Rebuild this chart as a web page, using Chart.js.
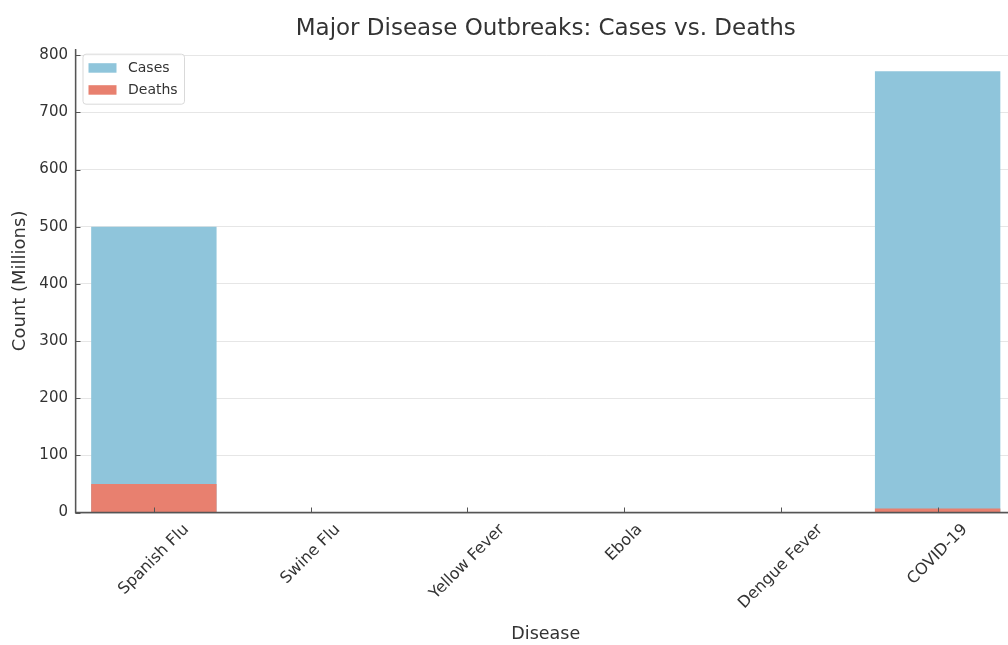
<!DOCTYPE html>
<html>
<head>
<meta charset="utf-8">
<title>Major Disease Outbreaks</title>
<script src="https://cdn.jsdelivr.net/npm/chart.js@4.4.1/dist/chart.umd.min.js"></script>
<style>
  html, body { margin: 0; padding: 0; background: #ffffff; overflow: hidden; }
  #wrap { position: absolute; left: 0; top: 0; width: 1016px; height: 645px; }
</style>
</head>
<body>
<div id="wrap"><canvas id="chart" width="1016" height="645"></canvas></div>
<script>
// Outbreak figures, in millions
const diseases = ['Spanish Flu', 'Swine Flu', 'Yellow Fever', 'Ebola', 'Dengue Fever', 'COVID-19'];
const cases = [500, 0.1, 0.2, 0.03, 0.1, 772];
const deaths = [50, 0.02, 0.03, 0.01, 0.04, 7];
const yTickValues = [0, 100, 200, 300, 400, 500, 600, 700, 800];
const chartTitle = 'Major Disease Outbreaks: Cases vs. Deaths';
const xTitle = 'Disease';
const yTitle = 'Count (Millions)';

const FONT = 'DejaVu Sans';
const TEXT = '#333333';
const AXIS = '#555555';
const CASES_COLOR = '#8fc5db';
const DEATHS_COLOR = '#e8806f';

// axis lines over the bars, inward ticks, rotated category labels, framed legend, title
const decor = {
  id: 'decor',
  afterDatasetsDraw(chart) {
    const { ctx, chartArea: a, scales: { x, y } } = chart;
    ctx.save();

    // left and bottom axis lines drawn above the bars
    ctx.strokeStyle = AXIS;
    ctx.lineWidth = 1.3;
    ctx.beginPath();
    ctx.moveTo(a.left, a.top);
    ctx.lineTo(a.left, a.bottom);
    ctx.lineTo(a.right, a.bottom);
    ctx.stroke();

    // inward tick marks
    ctx.lineWidth = 1;
    ctx.beginPath();
    diseases.forEach((_, i) => {
      const px = Math.round(x.getPixelForValue(i)) + 0.5;
      ctx.moveTo(px, a.bottom);
      ctx.lineTo(px, a.bottom - 5);
    });
    yTickValues.forEach(v => {
      const py = Math.round(y.getPixelForValue(v)) + 0.5;
      ctx.moveTo(a.left, py);
      ctx.lineTo(a.left + 5, py);
    });
    ctx.stroke();

    // category labels rotated 45°, centred under each tick
    const fs = 16;
    ctx.font = fs + 'px "' + FONT + '"';
    ctx.fillStyle = TEXT;
    ctx.textAlign = 'center';
    ctx.textBaseline = 'middle';
    const lh = fs * 1.164;
    diseases.forEach((label, i) => {
      const w = ctx.measureText(label).width;
      const half = (w + lh) * Math.SQRT1_2 / 2;
      const cx = x.getPixelForValue(i);
      const cy = a.bottom + 8 + half;
      ctx.save();
      ctx.translate(cx, cy);
      ctx.rotate(-Math.PI / 4);
      ctx.fillText(label, 0, 0);
      ctx.restore();
    });

    // legend
    const lx = a.left + 7, ly = a.top + 4.5, lw = 101.5, lhgt = 50;
    ctx.beginPath();
    ctx.roundRect(lx + 0.5, ly + 0.5, lw, lhgt, 3);
    ctx.fillStyle = 'rgba(255,255,255,0.8)';
    ctx.fill();
    ctx.strokeStyle = '#d9d9d9';
    ctx.stroke();
    ctx.font = '14px "' + FONT + '"';
    ctx.textAlign = 'left';
    chart.data.datasets.forEach((ds, i) => {
      const rowY = ly + 14 + i * 22;
      ctx.fillStyle = ds.backgroundColor;
      ctx.fillRect(lx + 6, rowY - 4.5, 28, 9.5);
      ctx.fillStyle = TEXT;
      ctx.fillText(ds.label, lx + 45.5, rowY + 0.5);
    });

    // chart title
    ctx.font = '23px "' + FONT + '"';
    ctx.textAlign = 'center';
    ctx.textBaseline = 'alphabetic';
    ctx.fillStyle = TEXT;
    ctx.fillText(chartTitle, (a.left + a.right) / 2, 35);

    ctx.restore();
  }
};

new Chart(document.getElementById('chart'), {
  type: 'bar',
  data: {
    labels: diseases,
    datasets: [
      { label: 'Cases', data: cases, backgroundColor: CASES_COLOR, order: 1 },
      { label: 'Deaths', data: deaths, backgroundColor: DEATHS_COLOR, order: 0 }
    ]
  },
  options: {
    responsive: false,
    animation: false,
    devicePixelRatio: 1,
    layout: { padding: { top: 49.2, left: 0, right: 0, bottom: 0 } },
    datasets: {
      bar: { grouped: false, categoryPercentage: 1.0, barPercentage: 0.8, borderWidth: 0 }
    },
    plugins: {
      legend: { display: false },
      title: { display: false },
      tooltip: { enabled: false }
    },
    scales: {
      x: {
        type: 'category',
        offset: true,
        grid: { display: false, drawTicks: false },
        border: { display: true, color: AXIS, width: 1.3 },
        ticks: { display: false },
        title: {
          display: true, text: xTitle, color: TEXT,
          font: { family: FONT, size: 17.5 },
          padding: { top: 0, bottom: 0.5 }
        },
        afterFit(scale) { scale.height = 132.5; }
      },
      y: {
        min: 0,
        max: 810.6,
        afterBuildTicks(scale) { scale.ticks = yTickValues.map(v => ({ value: v })); },
        grid: { color: '#e6e6e6', lineWidth: 1, drawTicks: false },
        border: { display: true, color: AXIS, width: 1.3 },
        ticks: {
          color: TEXT, padding: 7.5,
          font: { family: FONT, size: 15 }
        },
        title: {
          display: true, text: yTitle, color: TEXT,
          font: { family: FONT, size: 18 },
          padding: { top: 10, bottom: 0 }
        },
        afterFit(scale) { scale.width = 75.5; }
      }
    }
  },
  plugins: [decor]
});
</script>
</body>
</html>
